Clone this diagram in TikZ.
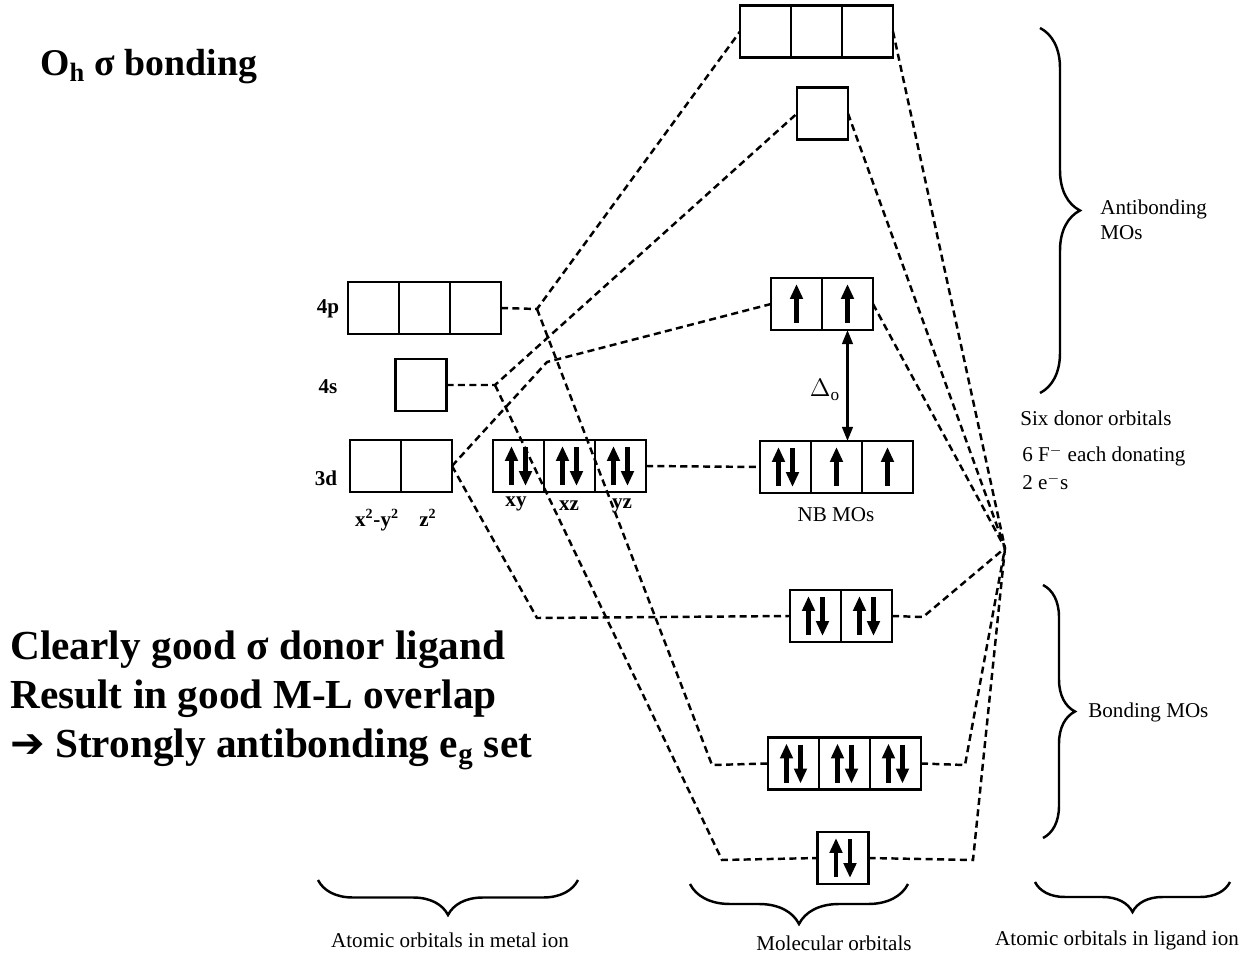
\documentclass[tikz,border=0pt]{standalone}
\usepackage{fontspec}
\setmainfont{Liberation Serif}
\newfontfamily\dingfont{DejaVu Sans}
\usetikzlibrary{positioning, arrows.meta, decorations.pathreplacing}

\tikzset{
  orb/.style={draw, line width=1.6pt, minimum width=1.02cm, minimum height=1.04cm,
    inner sep=0pt, outer sep=0pt},
  link/.style={line width=1.4pt, dash pattern=on 4pt off 2.5pt},
  spin/.style={line width=2.8pt, -{Triangle[length=8.5pt, width=7pt]}},
  lbl/.style={font=\bfseries\fontsize{12}{14}\selectfont, inner sep=0pt},
  note/.style={font=\fontsize{12}{14}\selectfont, inner sep=0pt},
  curly/.style={decorate, line width=1.4pt, decoration={brace, amplitude=#1}},
  pairup/.pic={\draw[spin] (-7,19) -- (-7,-20); \draw[spin] (7,-19) -- (7,20);},
  oneup/.pic={\draw[spin] (0,19) -- (0,-20);}
}

\begin{document}
\begin{tikzpicture}[x=0.02cm, y=-0.02cm]
    \useasboundingbox (0,0) rectangle (1247,956);

    % metal ion: 4p, 4s, 3d
    \node[orb] (p1) at (373.5,308) {};
    \node[orb, right=0pt of p1] (p2) {};
    \node[orb, right=0pt of p2] (p3) {};
    \node[orb] (s1) at (421,385) {};
    \node[orb] (d1) at (375.5,466) {};
    \node[orb, right=0pt of d1] (d2) {};
    \node[orb] (d3) at (518.5,466) {};
    \node[orb, right=0pt of d3] (d4) {};
    \node[orb, right=0pt of d4] (d5) {};
    \pic at (d3) {pairup};
    \pic at (d4) {pairup};
    \pic at (d5) {pairup};

    \node[lbl] (l4p) at (328,309) {4p};
    \node[lbl] (l4s) at (328,387) {4s};
    \node[lbl] (l3d) at (326,478) {3d};
    \node[lbl] (lx) at (377,520) {x\textsuperscript{2}-y\textsuperscript{2}};
    \node[lbl] (lz) at (428,518) {z\textsuperscript{2}};
    \node[lbl] (lxy) at (516,504) {xy};
    \node[lbl] (lxz) at (569,506) {xz};
    \node[lbl] (lyz) at (622,506) {yz};

    % molecular orbitals, top to bottom
    \node[orb] (ta1) at (765.5,31.5) {};
    \node[orb, right=0pt of ta1] (ta2) {};
    \node[orb, right=0pt of ta2] (ta3) {};
    \node[orb] (aa) at (822.5,113.5) {};
    \node[orb] (ea1) at (796.5,304) {};
    \node[orb, right=0pt of ea1] (ea2) {};
    \node[orb] (nb1) at (785.5,467) {};
    \node[orb, right=0pt of nb1] (nb2) {};
    \node[orb, right=0pt of nb2] (nb3) {};
    \node[orb] (eb1) at (815.5,616) {};
    \node[orb, right=0pt of eb1] (eb2) {};
    \node[orb] (tb1) at (793.5,763.5) {};
    \node[orb, right=0pt of tb1] (tb2) {};
    \node[orb, right=0pt of tb2] (tb3) {};
    \node[orb] (ab) at (843,858) {};
    \pic at (ea1) {oneup};
    \pic at (ea2) {oneup};
    \pic at (nb1) {pairup};
    \pic at (nb2) {oneup};
    \pic at (nb3) {oneup};
    \pic at (eb1) {pairup};
    \pic at (eb2) {pairup};
    \pic at (tb1) {pairup};
    \pic at (tb2) {pairup};
    \pic at (tb3) {pairup};
    \pic at (ab) {pairup};

    \node[note] (nbmo) at (836,515) {NB MOs};
    \draw[line width=1.5pt, {Triangle[length=8pt, width=6pt]}-{Triangle[length=8pt, width=6pt]}]
        (ea2.south) -- (ea2.south |- nb2.north);
    \node[font=\fontsize{14}{16}\selectfont] (delta) at (825,390) {$\Delta_{\mathrm{o}}$};

    % bend points of the correlation lines
    \coordinate (j4p) at (537,309);
    \coordinate (j4s) at (495,385);
    \coordinate (jeg) at (547,362);
    \coordinate (jegb) at (537,618);
    \coordinate (jtb) at (712,765);
    \coordinate (jab) at (722,860);
    \coordinate (lig) at (1005,548);
    \coordinate (reb) at (923,617);
    \coordinate (rtb) at (965,765);
    \coordinate (rab) at (973,860);

    % metal side
    \draw[link] (p3.east) -- (j4p) -- (ta1.west);
    \draw[link] (j4p) -- (jtb) -- (tb1.west);
    \draw[link] (s1.east) -- (j4s) -- (aa.west);
    \draw[link] (j4s) -- (jab) -- (ab.west);
    \draw[link] (d2.east) -- (jeg) -- (ea1.west);
    \draw[link] (d2.east) -- (jegb) -- (eb1.west);
    \draw[link] (d5.east) -- (nb1.west);

    % ligand side
    \draw[link] (ta3.east) -- (lig);
    \draw[link] (aa.east) -- (lig);
    \draw[link] (ea2.east) -- (lig);
    \draw[link] (eb2.east) -- (reb) -- (lig);
    \draw[link] (tb3.east) -- (rtb) -- (lig);
    \draw[link] (ab.east) -- (rab) -- (lig);

    % braces and notes
    \draw[curly=0.8cm] (1040,28) -- (1040,393);
    \draw[curly=0.64cm] (1043,585) -- (1043,838);
    \draw[curly=0.7cm] (578,880) -- (318,880);
    \draw[curly=0.8cm] (908,884) -- (690,884);
    \draw[curly=0.6cm] (1230,882) -- (1035,882);

    \node[note, anchor=north west, align=left] (antib) at (1100,200) {Antibonding\\MOs};
    \node[note, anchor=west] (bond) at (1088,712) {Bonding MOs};
    \node[note, anchor=west] (six) at (1020,418) {Six donor orbitals};
    \node[note, anchor=west] (fdon) at (1022,456) {6 F$^-$ each donating};
    \node[note, anchor=west] (two) at (1022,482) {2 e$^-$s};
    \node[note] (metal) at (450,940) {Atomic orbitals in metal ion};
    \node[note] (mo) at (834,943) {Molecular orbitals};
    \node[note] (ligand) at (1117,940) {Atomic orbitals in ligand ion};

    \node[anchor=base west, inner sep=0pt, font=\bfseries\fontsize{21.5}{26}\selectfont]
        (title) at (40,76) {O\textsubscript{h} σ bonding};
    \node[anchor=north west, align=left, inner sep=0pt, font=\bfseries\fontsize{23.5}{28}\selectfont]
        (claim) at (10,630) {Clearly good σ donor ligand\\Result in good M-L overlap\\
        {\dingfont\mdseries ➔} Strongly antibonding e\textsubscript{g} set};
\end{tikzpicture}
\end{document}
